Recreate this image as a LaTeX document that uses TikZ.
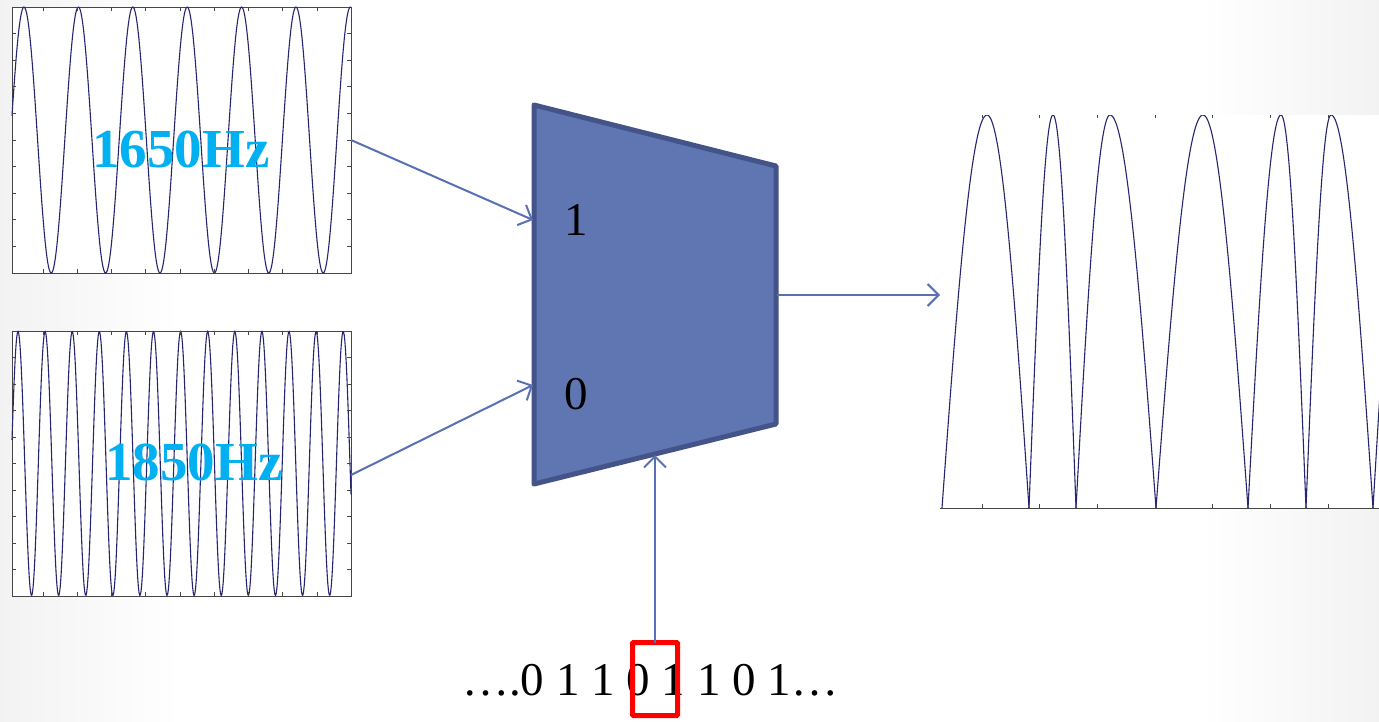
\documentclass[tikz,border=0pt]{standalone}
\usepackage{fontspec}
\setmainfont{Liberation Serif}
\usetikzlibrary{arrows.meta}
\definecolor{muxfill}{RGB}{95,118,179}
\definecolor{muxedge}{RGB}{68,84,137}
\definecolor{sigblue}{RGB}{90,112,181}
\definecolor{wavenavy}{RGB}{38,38,112}
\definecolor{hzcyan}{RGB}{0,176,240}
\definecolor{axisgray}{RGB}{70,70,70}
\begin{document}
\begin{tikzpicture}[x=1pt, y=-1pt,
    plotbox/.style={fill=white, inner sep=0pt, outer sep=0pt},
    wave/.style={draw=wavenavy, line width=1.1pt},
    tick/.style={draw=axisgray, line width=0.8pt},
    sig/.style={draw=sigblue, line width=2pt, -{Straight Barb[length=11pt, width=22pt]}},
    freq/.style={text=hzcyan, font=\fontsize{55}{60}\selectfont\bfseries, anchor=base},
    bit/.style={font=\fontsize{47}{56}\selectfont, anchor=base}]
    \useasboundingbox (0,0) rectangle (1379,721);
    \fill[white] (0,0) rectangle (1379,721);
    \shade[left color=black!5, right color=white] (0,0) rectangle (180,721);
    \shade[left color=white, right color=black!5] (1200,0) rectangle (1379,721);

    % Define node positions
    \node[plotbox, draw=axisgray, line width=0.8pt, minimum width=339pt, minimum height=266pt] (tone1650) at (181.5,140) {};
    \node[plotbox, draw=axisgray, line width=0.8pt, minimum width=339pt, minimum height=265pt] (tone1850) at (181.5,463.5) {};
    \node[plotbox, minimum width=439pt, minimum height=393pt] (fskout) at (1159.5,311.5) {};
    \coordinate (muxTL) at (534,105); \coordinate (muxTR) at (776,166);
    \coordinate (muxBR) at (776,424); \coordinate (muxBL) at (534,484);
    \coordinate (in1) at (533,220); \coordinate (in0) at (533,385);
    \coordinate (muxOut) at (777,295); \coordinate (muxBot) at (655,455);

    % Input tones
    \draw[wave] plot[domain=12:351, samples=400, variable=\t] ({\t},{140-133*cos((\t-24)/54.4*360)});
    \draw[wave] plot[domain=12:351, samples=500, variable=\t] ({\t},{463.5-132*cos((\t-18)/27.1*360)});
    \foreach \top/\bot in {7/273, 331/596} {
        \foreach \k in {1,...,9} {
            \draw[tick] (12,{\top+(\bot-\top)*\k/10}) -- ++(4,0);
            \draw[tick] (351,{\top+(\bot-\top)*\k/10}) -- ++(-4,0);
            \draw[tick] ({8.75+34.25*\k},\bot) -- ++(0,-4);
            \draw[tick] ({8.75+34.25*\k},\top) -- ++(0,4);
        }
    }
    \node[freq] (lbl1650) at (181,167) {1650Hz};
    \node[freq] (lbl1850) at (194,480) {1850Hz};

    % Output signal (rise a->p, fall p->b)
    \begin{scope}
        \clip (fskout.south west) rectangle (fskout.north east);
        \foreach \a/\p/\b in {942/987/1029, 1029/1053/1076, 1076/1110/1156, 1156/1203/1248,
                              1248/1281/1306, 1306/1331/1373, 1373/1410/1450} {
            \draw[wave] plot[domain=\a:\p, samples=50, variable=\t] ({\t},{508-393*sin((\t-\a)/(\p-\a)*90)})
                -- plot[domain=\p:\b, samples=50, variable=\t] ({\t},{508-393*cos((\t-\p)/(\b-\p)*90)});
        }
    \end{scope}
    \draw[tick] (fskout.south west) -- (fskout.south east);
    \foreach \k in {0,...,6} {
        \draw[tick] ({982+57.7*\k},508) -- ++(0,-4);
        \draw[tick] ({982+57.7*\k},115) -- ++(0,3);
    }

    % Multiplexer
    \draw[fill=muxfill, draw=muxedge, line width=5pt, line join=round]
        (muxTL) -- (muxTR) -- (muxBR) -- (muxBL) -- cycle;
    \node[bit] (sel1) at (576,235) {1};
    \node[bit] (sel0) at (576,409) {0};

    % Bit stream
    \node[bit] (bits) at (650,695) {….0 1 1 0 1 1 0 1…};
    \node[draw=red, line width=5pt, rounded corners=1pt, inner sep=0pt, outer sep=0pt,
        minimum width=45pt, minimum height=73pt] (pick) at (655,679) {};

    % Draw arrows
    \draw[sig] (tone1650.east) -- (in1);
    \draw[sig] ([yshift=-11.5pt]tone1850.east) -- (in0);
    \draw[sig] (muxOut) -- (muxOut -| fskout.west);
    \draw[sig] (pick.north) -- (muxBot);
\end{tikzpicture}
\end{document}
